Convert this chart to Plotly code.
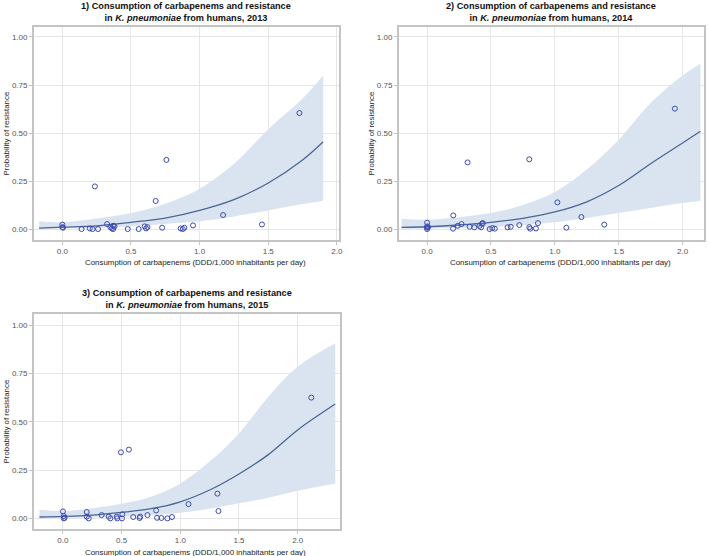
import plotly.graph_objects as go

# panel 1 (2013)
x13 = [0.0, 0.0, 0.005, 0.14, 0.20, 0.22, 0.26, 0.237, 0.326, 0.35, 0.36, 0.37, 0.37, 0.38,
       0.476, 0.556, 0.60, 0.61, 0.62, 0.68, 0.727, 0.758, 0.862, 0.877, 0.889, 0.952,
       1.171, 1.454, 1.727]
y13 = [0.023, 0.010, 0.007, 0.0, 0.003, 0.0, 0.0, 0.222, 0.026, 0.010, 0.003, 0.017, 0.0, 0.014,
       0.0, 0.0, 0.014, 0.003, 0.010, 0.146, 0.007, 0.360, 0.003, 0.0, 0.007, 0.019,
       0.073, 0.024, 0.604]
fx13 = [-0.17, 0.0, 0.25, 0.5, 0.75, 1.0, 1.25, 1.5, 1.75, 1.9]
fit13 = [0.005, 0.010, 0.017, 0.035, 0.057, 0.097, 0.153, 0.24, 0.36, 0.455]
up13 = [0.040, 0.035, 0.055, 0.083, 0.132, 0.21, 0.34, 0.52, 0.68, 0.80]
lo13 = [0.002, 0.003, 0.005, 0.014, 0.026, 0.040, 0.066, 0.097, 0.13, 0.148]

# panel 2 (2014)
x14 = [0.0, 0.0, 0.0, 0.0, 0.008, 0.205, 0.203, 0.24, 0.27, 0.317, 0.333, 0.369, 0.41, 0.423,
       0.43, 0.436, 0.49, 0.51, 0.53, 0.63, 0.655, 0.722, 0.80, 0.80, 0.808, 0.852, 0.868,
       1.02, 1.09, 1.208, 1.387, 1.94]
y14 = [0.033, 0.014, 0.007, 0.0, 0.010, 0.071, 0.002, 0.017, 0.026, 0.347, 0.012, 0.009, 0.016, 0.009,
       0.028, 0.031, 0.0, 0.005, 0.002, 0.009, 0.012, 0.021, 0.363, 0.010, 0.002, 0.003, 0.031,
       0.139, 0.007, 0.0625, 0.023, 0.627]
fx14 = [-0.2, 0.0, 0.25, 0.5, 0.75, 1.0, 1.25, 1.5, 1.75, 2.0, 2.14]
fit14 = [0.009, 0.012, 0.021, 0.035, 0.056, 0.089, 0.142, 0.227, 0.34, 0.448, 0.509]
up14 = [0.054, 0.049, 0.062, 0.083, 0.125, 0.193, 0.31, 0.465, 0.656, 0.80, 0.861]
lo14 = [0.002, 0.003, 0.006, 0.010, 0.020, 0.035, 0.057, 0.083, 0.11, 0.135, 0.148]

# panel 3 (2015)
x15 = [0.0, 0.008, 0.008, 0.014, 0.203, 0.203, 0.22, 0.33, 0.39, 0.404, 0.458, 0.463, 0.494,
       0.503, 0.506, 0.562, 0.599, 0.653, 0.658, 0.72, 0.794, 0.802, 0.839, 0.89, 0.929,
       1.07, 1.316, 1.325, 2.116]
y15 = [0.036, 0.012, 0.0, 0.003, 0.033, 0.009, 0.0, 0.017, 0.009, 0.0, 0.009, 0.0, 0.342,
       0.0, 0.021, 0.356, 0.007, 0.002, 0.009, 0.017, 0.041, 0.003, 0.002, 0.0, 0.007,
       0.074, 0.128, 0.038, 0.625]
fx15 = [-0.2, 0.0, 0.25, 0.5, 0.75, 1.0, 1.25, 1.5, 1.75, 2.0, 2.32]
fit15 = [0.007, 0.010, 0.017, 0.031, 0.05, 0.086, 0.147, 0.23, 0.33, 0.458, 0.592]
up15 = [0.045, 0.038, 0.052, 0.076, 0.112, 0.181, 0.294, 0.44, 0.63, 0.786, 0.907]
lo15 = [0.0, 0.002, 0.004, 0.007, 0.016, 0.029, 0.05, 0.078, 0.107, 0.143, 0.181]

years = ['2013', '2014', '2015']
y_ticks = [0, 0.25, 0.5, 0.75, 1.0]
y_tick_text = ['0.00', '0.25', '0.50', '0.75', '1.00']
x_ticks = [0, 0.5, 1.0, 1.5, 2.0]
x_tick_text = ['0.0', '0.5', '1.0', '1.5', '2.0']

W, H = 709, 556
FONT = 'Liberation Sans, Arial, sans-serif'
BAND = '#dae4f1'
LINE = '#4a6697'
MARK = '#3b4bb0'


def px(v):
    return v / W


def py(v):
    return 1 - v / H


panels = [
    dict(x=x13, y=y13, fx=fx13, fit=fit13, up=up13, lo=lo13,
         box=(34, 27, 341, 240), xr=[-0.208, 2.016], yr=[-0.057, 1.052]),
    dict(x=x14, y=y14, fx=fx14, fit=fit14, up=up14, lo=lo14,
         box=(401, 27, 708, 240), xr=[-0.222, 2.168], yr=[-0.057, 1.052]),
    dict(x=x15, y=y15, fx=fx15, fit=fit15, up=up15, lo=lo15,
         box=(34, 314, 342, 529), xr=[-0.248, 2.361], yr=[-0.055, 1.058]),
]

fig = go.Figure()
annotations = []
layout = {}
for i, p in enumerate(panels):
    n = '' if i == 0 else str(i + 1)
    xa, ya = 'x' + n, 'y' + n
    fig.add_trace(go.Scatter(x=p['fx'], y=p['up'], mode='lines', line=dict(width=0, shape='spline'),
                             xaxis=xa, yaxis=ya, hoverinfo='skip', showlegend=False))
    fig.add_trace(go.Scatter(x=p['fx'], y=p['lo'], mode='lines', line=dict(width=0, shape='spline'),
                             fill='tonexty', fillcolor=BAND,
                             xaxis=xa, yaxis=ya, hoverinfo='skip', showlegend=False))
    fig.add_trace(go.Scatter(x=p['fx'], y=p['fit'], mode='lines',
                             line=dict(color=LINE, width=1.3, shape='spline'),
                             xaxis=xa, yaxis=ya, showlegend=False))
    fig.add_trace(go.Scatter(x=p['x'], y=p['y'], mode='markers',
                             marker=dict(symbol='circle-open', size=5, color=MARK,
                                         line=dict(width=1, color=MARK)),
                             xaxis=xa, yaxis=ya, showlegend=False))
    l, t, r, b = p['box']
    common = dict(showgrid=True, gridcolor='#e6e6e6', gridwidth=1, zeroline=False,
                  showline=True, linecolor='#c4c4c4', linewidth=1.5, mirror=True,
                  ticks='outside', ticklen=3, tickcolor='#c4c4c4',
                  tickfont=dict(family=FONT, size=8, color='#555555'))
    layout['xaxis' + n] = dict(common, domain=[px(l), px(r)], range=p['xr'], anchor=ya,
                               tickvals=x_ticks, ticktext=x_tick_text)
    layout['yaxis' + n] = dict(common, domain=[py(b), py(t)], range=p['yr'], anchor=xa,
                               tickvals=y_ticks, ticktext=y_tick_text)
    cx = (l + r) / 2
    annotations.append(dict(
        x=px(cx), y=py(t - 2), xref='paper', yref='paper', xanchor='center', yanchor='bottom',
        text='<b>%d) Consumption of carbapenems and resistance<br>in <i>K. pneumoniae</i> from humans, %s</b>'
             % (i + 1, years[i]),
        showarrow=False, font=dict(family=FONT, size=9.2, color='#111111')))
    annotations.append(dict(
        x=px(cx + 9), y=py(b + 23), xref='paper', yref='paper', xanchor='center', yanchor='middle',
        text='Consumption of carbapenems (DDD/1,000 inhabitants per day)',
        showarrow=False, font=dict(family=FONT, size=7.9, color='#222222')))
    annotations.append(dict(
        x=px(l - 27), y=py((t + b) / 2), xref='paper', yref='paper', xanchor='center', yanchor='middle',
        text='Probability of resistance', textangle=-90,
        showarrow=False, font=dict(family=FONT, size=7.9, color='#222222')))

fig.update_layout(
    width=W, height=H, margin=dict(l=0, r=0, t=0, b=0),
    paper_bgcolor='white', plot_bgcolor='white',
    annotations=annotations, **layout
)
fig.write_html('out.html', config={'displayModeBar': False},
               post_script="document.body.style.margin='0px';")
